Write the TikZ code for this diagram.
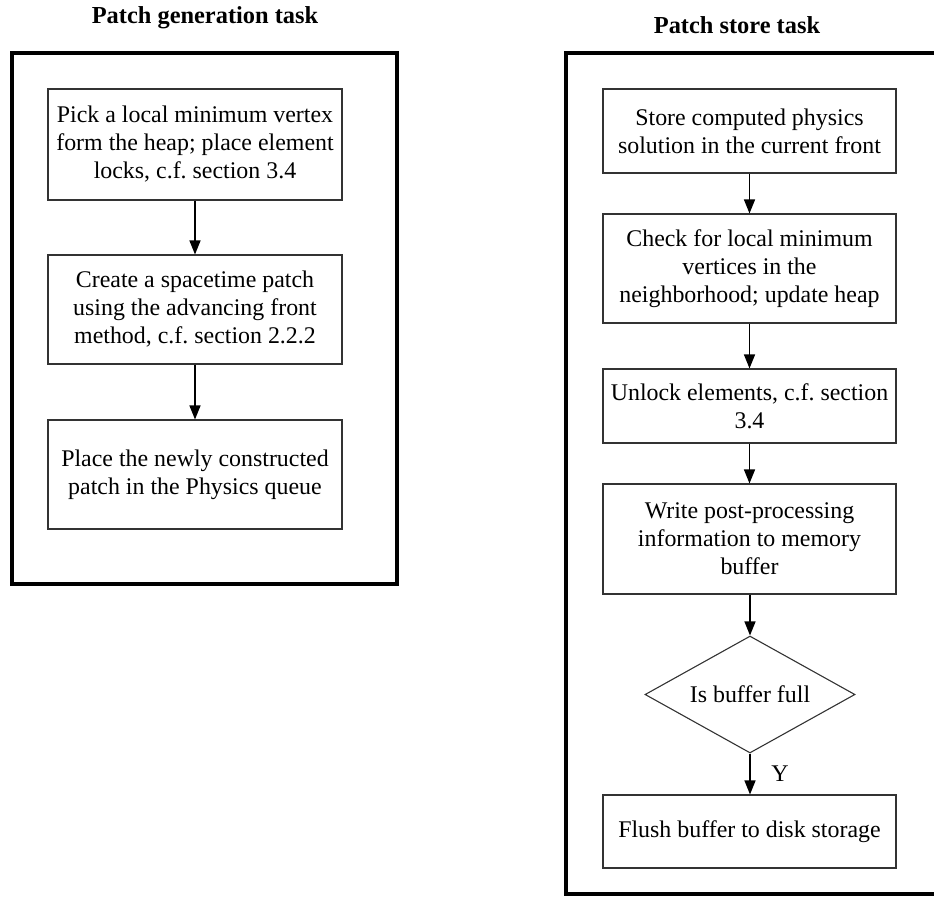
\documentclass[tikz,border=0pt]{standalone}
\usepackage{fontspec}
\setmainfont{Liberation Serif}
\usetikzlibrary{arrows.meta,shapes.geometric}
\frenchspacing
\begin{document}
\begin{tikzpicture}[x=1pt,y=-1pt,
  every node/.style={font=\fontsize{23.9}{28}\selectfont},
  stepbox/.style={draw=black!80,line width=1.1pt,minimum width=294pt,
    align=center,inner sep=1pt},
  decide/.style={draw=black!80,line width=1.1pt,shape=diamond,aspect=1.8,
    minimum width=210pt,minimum height=117pt,inner sep=0pt},
  frame/.style={line width=3.4pt,black},
  heading/.style={font=\fontsize{24.4}{28}\selectfont\bfseries,anchor=base},
  arr/.style={line width=1.4pt,-{Triangle[length=14pt,width=11pt]}}]
\useasboundingbox (0,0) rectangle (934,897);
\clip (0,0) rectangle (934,897);

% task frames
\draw[frame] (12,53) rectangle (397,584);
\draw[frame] (566,53) rectangle (945,894);

% headings
\node[heading] (t1) at (205,23) {Patch generation task};
\node[heading] (t2) at (737,33) {Patch store task};

% patch generation steps
\node[stepbox,minimum height=111pt] (b1) at (195,144.5)
  {Pick a local minimum vertex\\form the heap; place element\\locks, c.f. section 3.4};
\node[stepbox,minimum height=109pt] (b2) at (195,309.5)
  {Create a spacetime patch\\using the advancing front\\method, c.f. section 2.2.2};
\node[stepbox,minimum height=109pt] (b3) at (195,474.5)
  {Place the newly constructed\\patch in the Physics queue};
\draw[arr] (b1) -- (b2);
\draw[arr] (b2) -- (b3);

% patch store steps
\node[stepbox,minimum width=293pt,minimum height=84pt] (r1) at (749.5,131)
  {Store computed physics\\solution in the current front};
\node[stepbox,minimum width=293pt,minimum height=109pt] (r2) at (749.5,268.5)
  {Check for local minimum\\vertices in the\\neighborhood; update heap};
\node[stepbox,minimum width=293pt,minimum height=74pt] (r3) at (749.5,406)
  {Unlock elements, c.f. section\\3.4};
\node[stepbox,minimum width=293pt,minimum height=110pt] (r4) at (749.5,539)
  {Write post-processing\\information to memory\\buffer};
\node[decide] (d1) at (750,694.5) {Is buffer full};
\node[stepbox,minimum width=293pt,minimum height=73pt] (r5) at (749.5,831.5)
  {Flush buffer to disk storage};
\node (yes) at (780,774) {Y};
\draw[arr] (r1) -- (r2);
\draw[arr] (r2) -- (r3);
\draw[arr] (r3) -- (r4);
\draw[arr] (r4.south -| d1.north) -- (d1.north);
\draw[arr] (d1.south) -- (r5.north -| d1.south);
\end{tikzpicture}
\end{document}
